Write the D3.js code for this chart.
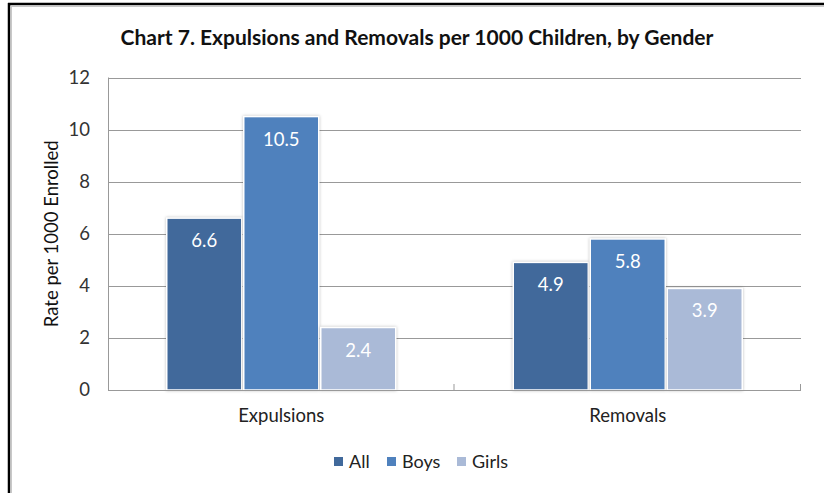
<!DOCTYPE html>
<html>
<head>
<meta charset="utf-8">
<script src="https://cdn.jsdelivr.net/npm/d3@7"></script>
<style>
  html, body { margin: 0; padding: 0; background: #fff; }
  svg { display: block; }
</style>
</head>
<body>
<svg id="chart" width="824" height="493"></svg>
<script>
// Rates per 1000 enrolled children
const categories = ["Expulsions", "Removals"];
const seriesNames = ["All", "Boys", "Girls"];
const allValues = [6.6, 4.9];
const boysValues = [10.5, 5.8];
const girlsValues = [2.4, 3.9];
const yTicks = [0, 2, 4, 6, 8, 10, 12];

const colors = { All: "#41699B", Boys: "#4F81BD", Girls: "#AABAD7" };
const font = "Lato, 'Open Sans', sans-serif";

const svg = d3.select("#chart");
const W = 824, H = 493;

// outer frame: heavy top and left rules with a faint inner line
svg.append("rect").attr("x", 0).attr("y", 0).attr("width", W).attr("height", H).attr("fill", "#fff");
svg.append("line").attr("x1", 8).attr("x2", W).attr("y1", 4).attr("y2", 4)
  .attr("stroke", "#000").attr("stroke-width", 2.5);
svg.append("line").attr("x1", 9).attr("x2", 9).attr("y1", 3).attr("y2", H)
  .attr("stroke", "#000").attr("stroke-width", 2.5);
svg.append("line").attr("x1", 11).attr("x2", W).attr("y1", 6.5).attr("y2", 6.5)
  .attr("stroke", "#c8c8c8").attr("stroke-width", 1);
svg.append("line").attr("x1", 11.5).attr("x2", 11.5).attr("y1", 6).attr("y2", H)
  .attr("stroke", "#c8c8c8").attr("stroke-width", 1);

const plot = { left: 108, right: 801, top: 77.5, bottom: 390 };

const x0 = d3.scaleBand().domain(categories).range([plot.left, plot.right]).paddingInner(0).paddingOuter(0);
const x1 = d3.scaleBand().domain(seriesNames).range([0, 231]).paddingInner(0);
const y = d3.scaleLinear().domain([0, 12]).range([plot.bottom, plot.top]);

// horizontal gridlines
svg.append("g").selectAll("line").data(yTicks.filter(d => d > 0)).join("line")
  .attr("x1", plot.left).attr("x2", plot.right)
  .attr("y1", d => Math.round(y(d)) + 0.5).attr("y2", d => Math.round(y(d)) + 0.5)
  .attr("stroke", "#999").attr("stroke-width", 1);

// y axis line and labels
svg.append("line").attr("x1", plot.left + 0.5).attr("x2", plot.left + 0.5)
  .attr("y1", plot.top).attr("y2", plot.bottom)
  .attr("stroke", "#999");
const yAxis = d3.axisLeft(y).tickValues(yTicks).tickSize(0).tickPadding(18);
const gy = svg.append("g").attr("transform", `translate(${plot.left},0)`).call(yAxis);
gy.select(".domain").remove();
gy.selectAll("text").attr("font-family", font).attr("font-size", 18.5).attr("fill", "#333");

svg.append("text")
  .attr("transform", `translate(58,${(plot.top + plot.bottom) / 2}) rotate(-90)`)
  .attr("text-anchor", "middle")
  .attr("font-family", font).attr("font-size", 18.5).attr("fill", "#111")
  .text("Rate per 1000 Enrolled");

// bars
const data = categories.map((c, i) => ({
  category: c,
  values: [
    { name: "All", value: allValues[i] },
    { name: "Boys", value: boysValues[i] },
    { name: "Girls", value: girlsValues[i] }
  ]
}));

const groupOffset = (x0.bandwidth() - 231) / 2;
const groups = svg.append("g").selectAll("g").data(data).join("g")
  .attr("transform", d => `translate(${x0(d.category) + groupOffset},0)`);

groups.selectAll("rect").data(d => d.values).join("rect")
  .attr("x", d => x1(d.name) + 1)
  .attr("y", d => y(d.value))
  .attr("width", x1.bandwidth() - 2)
  .attr("height", d => y(0) - y(d.value))
  .attr("fill", d => colors[d.name])
  .attr("stroke", "#fff").attr("stroke-width", 1.5)
  .style("filter", "drop-shadow(0px 0px 1.5px rgba(0,0,0,0.25))");

groups.selectAll("text").data(d => d.values).join("text")
  .attr("x", d => x1(d.name) + x1.bandwidth() / 2)
  .attr("y", d => y(d.value) + 29)
  .attr("text-anchor", "middle")
  .attr("font-family", font).attr("font-size", 18.5).attr("fill", "#fff")
  .text(d => d.value.toFixed(1));

// category axis
svg.append("line").attr("x1", plot.left).attr("x2", plot.right)
  .attr("y1", plot.bottom + 0.5).attr("y2", plot.bottom + 0.5)
  .attr("stroke", "#999");
const tickXs = [x0.range()[0] + x0.bandwidth(), plot.right];
svg.append("g").selectAll("line").data(tickXs).join("line")
  .attr("x1", d => d - 0.5).attr("x2", d => d - 0.5)
  .attr("y1", plot.bottom - 6).attr("y2", plot.bottom)
  .attr("stroke", "#999");

svg.append("g").selectAll("text").data(categories).join("text")
  .attr("x", d => x0(d) + x0.bandwidth() / 2)
  .attr("y", plot.bottom + 32)
  .attr("text-anchor", "middle")
  .attr("font-family", font).attr("font-size", 18.5).attr("fill", "#222")
  .text(d => d);

// title
svg.append("text")
  .attr("x", 417).attr("y", 45)
  .attr("text-anchor", "middle")
  .attr("font-family", font).attr("font-size", 21).attr("font-weight", "bold").attr("fill", "#111")
  .text("Chart 7. Expulsions and Removals per 1000 Children, by Gender");

// legend
const legendX = [334, 387, 457];
const legend = svg.append("g").selectAll("g").data(seriesNames).join("g")
  .attr("transform", (d, i) => `translate(${legendX[i]},462)`);
legend.append("rect").attr("x", 0).attr("y", -5).attr("width", 9).attr("height", 9)
  .attr("fill", d => colors[d]);
legend.append("text").attr("x", 15).attr("y", 6)
  .attr("font-family", font).attr("font-size", 18).attr("fill", "#222")
  .text(d => d);
</script>
</body>
</html>
